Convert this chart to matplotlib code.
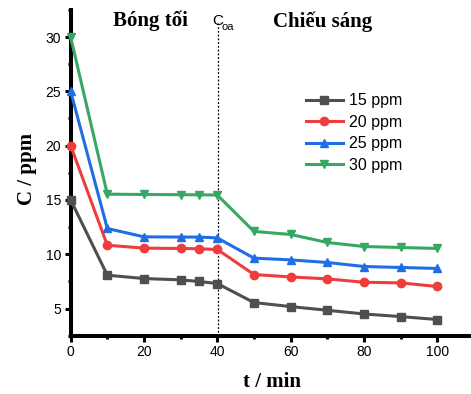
import matplotlib
matplotlib.use("Agg")
import matplotlib.pyplot as plt
from matplotlib.ticker import MultipleLocator

t = [0, 10, 20, 30, 35, 40, 50, 60, 70, 80, 90, 100]
c15 = [15.0, 8.07, 7.76, 7.64, 7.49, 7.30, 5.55, 5.18, 4.84, 4.50, 4.26, 3.99]
c20 = [20.0, 10.83, 10.56, 10.53, 10.50, 10.44, 8.13, 7.91, 7.73, 7.42, 7.36, 7.03]
c25 = [25.0, 12.37, 11.60, 11.58, 11.58, 11.50, 9.64, 9.48, 9.24, 8.87, 8.78, 8.69]
c30 = [30.0, 15.53, 15.50, 15.48, 15.47, 15.45, 12.10, 11.82, 11.08, 10.71, 10.62, 10.53]
labels = ["15 ppm", "20 ppm", "25 ppm", "30 ppm"]
colors = ["#4f4f4f", "#ee3d3d", "#1e6fe3", "#36a862"]
markers = ["s", "o", "^", "v"]
t_oa = 40.2

fig = plt.figure(figsize=(4.71, 3.94), dpi=100)
ax = fig.add_axes([0.150, 0.148, 0.85, 0.827])

for y, lab, col, mk in zip([c15, c20, c25, c30], labels, colors, markers):
    ax.plot(t, y, color=col, marker=mk, lw=2.2, ms=6, label=lab, clip_on=False, zorder=3)

ax.vlines(t_oa, 2.5, 31.4, color="black", lw=0.9, ls=(0, (1.5, 1.5)), zorder=1)

ax.set_xlim(0, 109.2)
ax.set_ylim(2.5, 32.5)
ax.xaxis.set_major_locator(MultipleLocator(20))
ax.xaxis.set_minor_locator(MultipleLocator(10))
ax.yaxis.set_major_locator(MultipleLocator(5))
ax.yaxis.set_minor_locator(MultipleLocator(2.5))
ax.set_yticks([5, 10, 15, 20, 25, 30])

for s in ["top", "right"]:
    ax.spines[s].set_visible(False)
for s in ["left", "bottom"]:
    ax.spines[s].set_linewidth(2.9)

ax.tick_params(which="major", direction="out", length=4, width=2.2, labelsize=10, pad=3)
ax.tick_params(which="minor", direction="out", length=2, width=2.2)
for lbl in ax.get_xticklabels() + ax.get_yticklabels():
    lbl.set_fontfamily("Liberation Sans")

ax.set_xlabel("t / min", fontfamily="Liberation Serif", fontweight="bold", fontsize=15)
ax.xaxis.set_label_coords(0.503, -0.143)
ax.set_ylabel("C / ppm", fontfamily="Liberation Serif", fontweight="bold", fontsize=15)
ax.yaxis.set_label_coords(-0.11, 0.513)
ax.yaxis.label.set_va("center")
ax.xaxis.label.set_va("center")

ax.text(21.8, 31.0, "Bóng tối", fontfamily="Liberation Serif", fontweight="bold", fontsize=15,
        ha="center", va="baseline")
ax.text(68.7, 30.9, "Chiếu sáng", fontfamily="Liberation Serif", fontweight="bold", fontsize=15,
        ha="center", va="baseline")
ax.text(38.7, 31.1, "C", fontfamily="Liberation Sans", fontsize=11, ha="left", va="baseline")
ax.text(41.1, 30.6, "oa", fontfamily="Liberation Sans", fontsize=8, ha="left", va="baseline")

leg = ax.legend(loc="center left", bbox_to_anchor=(0.588, 0.622), frameon=False,
                prop={"family": "Liberation Sans", "size": 11.5}, handlelength=2.3,
                handletextpad=0.4, labelspacing=0.4, borderaxespad=0, borderpad=0)

fig.savefig("out.png", dpi=100)
